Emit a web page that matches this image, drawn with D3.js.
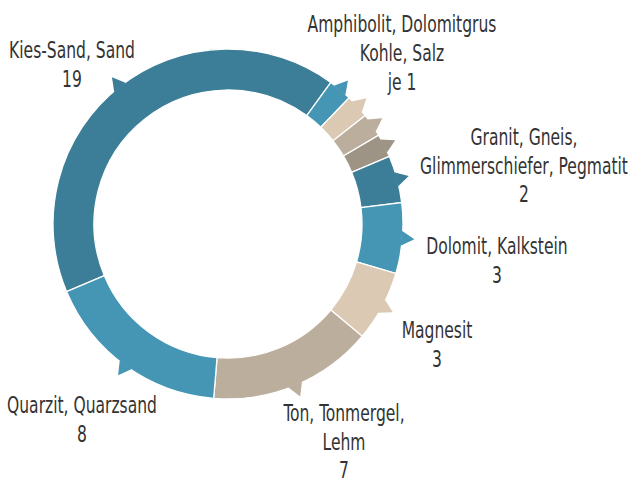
<!DOCTYPE html>
<html>
<head>
<meta charset="utf-8">
<script src="https://cdn.jsdelivr.net/npm/d3@7"></script>
<style>
  body { margin: 0; background: #fff; }
  #container { width: 631px; height: 484px; }
  text { font-family: "Liberation Sans Narrow", "DejaVu Sans Condensed", "Liberation Sans", sans-serif; font-size: 23px; fill: #333; }
</style>
</head>
<body>
<div id="container"></div>
<script>
'use strict';

// categories clockwise, starting with Kies-Sand
var categories = ["Kies-Sand, Sand", "Amphibolit", "Dolomitgrus", "Kohle", "Salz",
  "Granit, Gneis, Glimmerschiefer, Pegmatit", "Dolomit, Kalkstein", "Magnesit",
  "Ton, Tonmergel, Lehm", "Quarzit, Quarzsand"];
var values = [19, 1, 1, 1, 1, 2, 3, 3, 7, 8];
var colors = ["#3c7e97", "#4596b4", "#dbc9b3", "#bbae9c", "#9d9486",
  "#3c7e97", "#4596b4", "#dbc9b3", "#bbae9c", "#4596b4"];

// label blocks: which categories they describe and the text lines
var labelItems = [[0], [1, 2, 3, 4], [5], [6], [7], [8], [9]];
var labelLines = [
  ["Kies-Sand, Sand"],
  ["Amphibolit, Dolomitgrus", "Kohle, Salz"],
  ["Granit, Gneis,", "Glimmerschiefer, Pegmatit"],
  ["Dolomit, Kalkstein"],
  ["Magnesit"],
  ["Ton, Tonmergel,", "Lehm"],
  ["Quarzit, Quarzsand"]
];
// layout: centre x and first baseline of each label block
var labelAt = [[72, 58], [402, 32.5], [524, 145], [497, 254], [437, 338], [344, 421], [82, 413]];

var width = 631, height = 484;
var cx = 228, cy = 224;
var outerR = 175, innerR = 134;
var lineH = 28.6;

var svg = d3.select("#container").append("svg")
  .attr("width", width)
  .attr("height", height);

var g = svg.append("g")
  .attr("transform", "translate(" + cx + "," + cy + ")");

var start = -112.7 * Math.PI / 180;
var pie = d3.pie()
  .sort(null)
  .startAngle(start)
  .endAngle(start + 2 * Math.PI)
  .value(function(d) { return d; });

var arc = d3.arc()
  .outerRadius(outerR)
  .innerRadius(innerR);

var arcs = pie(values);

/* ------- SLICES -------*/
g.selectAll("path.slice")
  .data(arcs)
  .enter()
  .append("path")
  .attr("class", "slice")
  .attr("d", arc)
  .style("fill", function(d, i) { return colors[i]; })
  .style("stroke", "#fff")
  .style("stroke-width", 1.3);

/* ------- POINTERS -------*/
var half = 7.5 / outerR;
g.selectAll("path.pointer")
  .data(arcs)
  .enter()
  .append("path")
  .attr("class", "pointer")
  .attr("d", function(d) {
    var a = (d.startAngle + d.endAngle) / 2;
    var p1 = d3.pointRadial(a - half, outerR - 1);
    var p2 = d3.pointRadial(a, outerR + 12);
    var p3 = d3.pointRadial(a + half, outerR - 1);
    return "M" + p1 + "L" + p2 + "L" + p3 + "Z";
  })
  .style("fill", function(d, i) { return colors[i]; });

/* ------- LABELS -------*/
var labels = svg.append("g").attr("class", "labels");

labelItems.forEach(function(items, k) {
  var lines = labelLines[k].slice();
  var v = values[items[0]];
  lines.push(items.length > 1 ? "je " + v : String(v));

  labels.append("text")
    .attr("text-anchor", "middle")
    .selectAll("tspan")
    .data(lines)
    .enter()
    .append("tspan")
    .attr("x", labelAt[k][0])
    .attr("y", function(d, i) { return labelAt[k][1] + i * lineH; })
    .text(function(d) { return d; });
});

// squeeze the type to the narrow face of the original
var probe = labels.append("text").text("Amphibolit, Dolomitgrus");
var k = 189 / probe.node().getComputedTextLength();
probe.remove();
labels.selectAll("text").each(function() {
  var t = d3.select(this);
  t.selectAll("tspan").each(function() {
    var x = +d3.select(this).attr("x");
    d3.select(this).attr("x", x / k);
  });
  t.attr("transform", "scale(" + k + ",1)");
});
</script>
</body>
</html>
